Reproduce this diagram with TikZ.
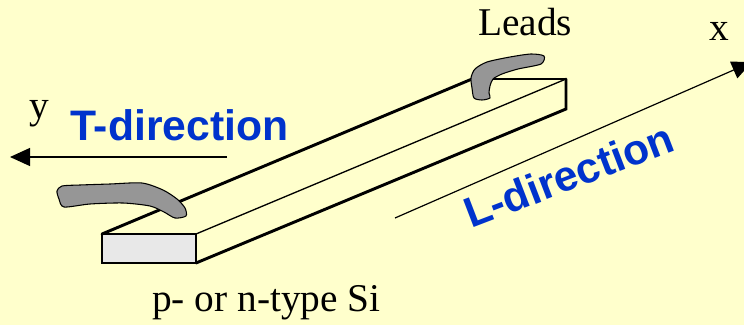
\documentclass[tikz,border=0pt]{standalone}
\usepackage{fontspec}
\setmainfont{Liberation Serif}
\newfontfamily\arialfont{Liberation Sans}
\usetikzlibrary{arrows.meta}
\definecolor{paper}{RGB}{255,255,204}
\definecolor{dirblue}{RGB}{0,51,204}
\definecolor{leadgray}{RGB}{150,150,150}
\definecolor{facegray}{RGB}{232,232,232}
\begin{document}
\begin{tikzpicture}[x=0.75pt,y=-0.75pt,
  edge/.style={line width=2.2pt, line cap=round, line join=miter},
  thinedge/.style={line width=1pt},
  lead/.style={fill=leadgray, draw=black, line width=0.8pt, line join=round},
  axis/.style={line width=0.9pt, -{Triangle[length=15pt,width=13.5pt]}},
  dirlabel/.style={font=\arialfont\bfseries\fontsize{32}{37}\selectfont, text=dirblue, inner sep=0pt},
  plainlabel/.style={font=\fontsize{29.5}{34}\selectfont, inner sep=0pt}]
\useasboundingbox (0,0) rectangle (744,325);
\clip (0,0) rectangle (744,325);
\fill[paper] (0,0) rectangle (744,325);

% corners of the silicon bar
\coordinate (ftl) at (102,234);
\coordinate (ftr) at (196,234);
\coordinate (fbr) at (196,263);
\coordinate (fbl) at (102,263);
\coordinate (btl) at (472,79);
\coordinate (btr) at (566,79);
\coordinate (bbr) at (566,109);

% bar: front face and receding edges
\draw[edge, fill=facegray] (ftl) rectangle (fbr);
\draw[edge] (ftl) -- (btl);
\draw[edge] (fbr) -- (bbr) -- (btr);
\draw[line width=1.5pt] (btl) -- (btr);
\draw[thinedge] (ftr) -- (btr);

% leads
\draw[lead] plot[smooth cycle, tension=0.45] coordinates {
  (57,191) (62,186) (80,185) (110,184) (142,183) (163,190) (177,199)
  (185,208) (186,216) (175,218) (164,212) (150,206) (123,203) (90,204)
  (64,207) (59,199)};
\draw[lead] plot[smooth cycle, tension=0.45] coordinates {
  (544,56) (541,64) (518,69) (502,74) (493,79) (490,86) (489,93)
  (490,98) (482,100) (474,98) (472,88) (471,78) (475,69) (487,62)
  (510,57) (531,54)};

% axes
\coordinate (xs) at (395,218);
\coordinate (xe) at (752,62);
\coordinate (ys) at (227,157);
\coordinate (ye) at (10,157);
\draw[axis] (xs) -- (xe);
\draw[axis] (ys) -- (ye);

% labels
\node[plainlabel, anchor=base] (leads) at (525,35) {Leads};
\node[plainlabel, anchor=base] (xl) at (719,40) {x};
\node[plainlabel, anchor=base] (yl) at (39,118) {y};
\node[plainlabel, anchor=base west] (si) at (152,311) {p- or n-type Si};
\node[dirlabel, anchor=base west] (td) at (70,140) {T-direction};
\node[dirlabel, anchor=base west, rotate=21] (ld) at (471,229) {L-direction};
\end{tikzpicture}
\end{document}
